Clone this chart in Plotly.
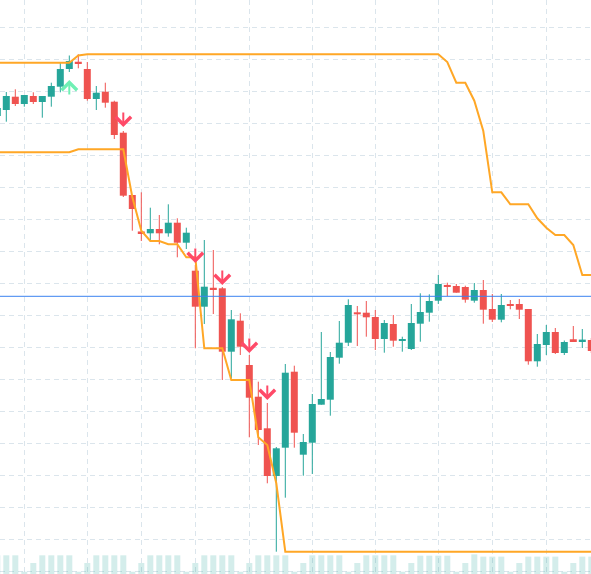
import plotly.graph_objects as go

# ---------------- data ----------------
idx = list(range(67))

open_ = [88.4, 89.0, 90.33, 89.6, 90.4, 89.8, 90.33, 91.33, 93.1, 93.8,
         93.1, 90.1, 90.83, 89.83, 86.73, 80.5, 76.83, 76.67, 77.1, 76.67,
         77.73, 75.73, 72.93, 69.33, 71.2, 71.17, 64.83, 67.93, 63.5, 60.33,
         57.17, 52.4, 55.23, 62.83, 54.53, 55.73, 59.53, 60.03, 64.23, 65.73,
         68.77, 68.73, 68.3, 66.1, 67.6, 65.9, 65.1, 67.63, 68.73, 69.93,
         71.5, 71.4, 71.3, 69.93, 71.0, 69.1, 68.03, 69.57, 69.6, 69.1,
         63.87, 65.5, 66.8, 64.7, 66.07, 65.9, 66.0]

high = [89.6, 90.8, 91.07, 90.5, 90.77, 90.4, 91.73, 93.73, 94.45, 94.57,
        93.8, 91.4, 91.73, 89.93, 86.9, 80.5, 80.77, 79.23, 78.5, 79.57,
        78.17, 77.23, 73.5, 76.0, 75.0, 71.3, 69.0, 68.67, 64.5, 61.83,
        59.7, 55.3, 63.6, 63.43, 56.6, 60.6, 66.8, 64.8, 67.9, 70.07,
        69.4, 69.9, 69.0, 68.0, 68.5, 66.33, 69.6, 70.67, 70.57, 72.5,
        71.73, 71.6, 71.43, 71.7, 72.0, 70.6, 70.6, 70.0, 70.1, 69.1,
        66.6, 67.5, 67.2, 65.95, 67.4, 67.1, 66.2]

low = [87.9, 87.83, 89.4, 89.33, 89.6, 88.23, 89.33, 90.77, 92.8, 93.17,
       89.93, 89.0, 89.23, 86.1, 80.3, 76.93, 75.9, 76.0, 75.57, 76.33,
       74.27, 75.1, 65.17, 67.6, 68.6, 62.0, 62.2, 64.5, 56.27, 55.5,
       51.67, 44.83, 50.23, 55.23, 52.43, 52.6, 59.53, 58.43, 63.63, 65.4,
       65.4, 66.33, 65.0, 64.73, 65.33, 64.83, 65.0, 65.83, 67.83, 69.6,
       70.4, 70.73, 69.73, 69.73, 67.63, 67.8, 67.77, 69.07, 68.1, 63.53,
       63.33, 64.5, 64.6, 64.5, 65.85, 65.2, 64.7]

close = [89.2, 90.4, 89.6, 90.5, 89.8, 90.4, 91.4, 93.1, 93.9, 93.67,
         90.1, 90.73, 89.73, 86.5, 80.43, 79.1, 76.7, 77.1, 76.67, 77.73,
         75.73, 76.73, 69.33, 71.33, 71.07, 64.83, 68.07, 65.33, 60.23, 57.0,
         52.4, 55.17, 62.73, 56.73, 55.8, 59.6, 60.1, 64.3, 65.73, 69.5,
         68.57, 68.27, 66.1, 67.7, 65.93, 66.1, 67.7, 68.8, 69.9, 71.6,
         71.33, 70.73, 70.03, 71.0, 69.03, 68.03, 69.5, 69.43, 69.03, 63.87,
         65.6, 66.8, 64.7, 65.8, 65.9, 66.0, 64.9]

volume = [1000, 1000, 1000, 120, 590, 1000, 1000, 1000, 1000, 120,
          590, 1000, 1000, 1000, 1000, 120, 590, 1000, 1000, 1000,
          1000, 120, 590, 1000, 1000, 1000, 1000, 120, 590, 1000,
          1000, 1000, 1000, 120, 590, 1000, 1000, 1000, 1000, 120,
          590, 1000, 1000, 1000, 1000, 120, 590, 980, 980, 980,
          980, 120, 590, 1050, 930, 930, 930, 120, 590, 930,
          930, 930, 930, 120, 590, 930, 930]

upper = [93.73, 93.73, 93.73, 93.73, 93.73, 93.73, 93.73, 93.73, 93.73, 94.45,
         94.57, 94.57, 94.57, 94.57, 94.57, 94.57, 94.57, 94.57, 94.57, 94.57,
         94.57, 94.57, 94.57, 94.57, 94.57, 94.57, 94.57, 94.57, 94.57, 94.57,
         94.57, 94.57, 94.57, 94.57, 94.57, 94.57, 94.57, 94.57, 94.57, 94.57,
         94.57, 94.57, 94.57, 94.57, 94.57, 94.57, 94.57, 94.57, 94.57, 94.57,
         93.8, 91.73, 91.73, 89.93, 86.9, 80.77, 80.77, 79.57, 79.57, 79.57,
         78.17, 77.23, 76.5, 76.5, 75.5, 72.5, 72.5]

lower = [84.77, 84.77, 84.77, 84.77, 84.77, 84.77, 84.77, 84.77, 84.77, 85.07,
         85.07, 85.07, 85.07, 85.07, 85.07, 80.3, 76.93, 75.9, 75.9, 75.57,
         75.57, 74.27, 74.27, 65.17, 65.17, 65.17, 62.0, 62.0, 62.0, 56.27,
         55.5, 51.67, 44.83, 44.83, 44.83, 44.83, 44.83, 44.83, 44.83, 44.83,
         44.83, 44.83, 44.83, 44.83, 44.83, 44.83, 44.83, 44.83, 44.83, 44.83,
         44.83, 44.83, 44.83, 44.83, 44.83, 44.83, 44.83, 44.83, 44.83, 44.83,
         44.83, 44.83, 44.83, 44.83, 44.83, 44.83, 44.83]

sell_idx = [14, 22, 25, 28, 30]
sell_price = [87.3, 73.7, 71.5, 64.7, 60.0]
buy_idx = [8]
buy_price = [92.0]

ref_price = 70.37
grid_idx = [3, 10, 16, 22, 28, 35, 42, 49, 55, 61]

# ---------------- styles ----------------
UP = "#26a69a"
DOWN = "#ef5350"
VOL = "rgba(38,166,154,0.2)"
CHAN = "#ffa726"
GRID = "#dbe5ec"
MIN_BODY = 0.18

fig = go.Figure()

fig.add_trace(go.Bar(x=idx, y=volume, yaxis="y2", width=0.667,
                     marker=dict(color=VOL, line=dict(width=0)),
                     hoverinfo="skip"))

for is_up, col in ((True, UP), (False, DOWN)):
    sel = [i for i in idx if (close[i] >= open_[i]) == is_up]
    bx, by, bb = [], [], []
    wx, wy = [], []
    for i in sel:
        lo_b = min(open_[i], close[i])
        h = abs(close[i] - open_[i])
        if h < MIN_BODY:
            lo_b = (open_[i] + close[i]) / 2 - MIN_BODY / 2
            h = MIN_BODY
        bx.append(i); by.append(h); bb.append(lo_b)
        wx += [i, i, None]; wy += [low[i], high[i], None]
    fig.add_trace(go.Scatter(x=wx, y=wy, mode="lines",
                             line=dict(color=col, width=1), hoverinfo="skip"))
    fig.add_trace(go.Bar(x=bx, y=by, base=bb, width=0.778,
                         marker=dict(color=col, line=dict(width=0)),
                         hoverinfo="skip"))

fig.add_trace(go.Scatter(x=idx, y=upper, mode="lines",
                         line=dict(color=CHAN, width=2), hoverinfo="skip"))
fig.add_trace(go.Scatter(x=idx, y=lower, mode="lines",
                         line=dict(color=CHAN, width=2), hoverinfo="skip"))

fig.add_hline(y=ref_price, line=dict(color="#3b82f0", width=1))

for i, p in zip(sell_idx, sell_price):
    fig.add_annotation(x=i, y=p, text="", showarrow=True, ax=0, ay=-16,
                       arrowhead=4, arrowsize=1.5, arrowwidth=2,
                       arrowcolor="#ff4a68")
for i, p in zip(buy_idx, buy_price):
    fig.add_annotation(x=i, y=p, text="", showarrow=True, ax=0, ay=16,
                       arrowhead=4, arrowsize=1.5, arrowwidth=2,
                       arrowcolor="#6ff0b4")

fig.update_layout(
    width=591, height=574,
    margin=dict(l=0, r=0, t=0, b=0),
    paper_bgcolor="white", plot_bgcolor="white",
    showlegend=False, barmode="overlay",
    xaxis=dict(range=[0.3, 0.3 + 591 / 9], tickmode="array", tickvals=grid_idx,
               showticklabels=False, showgrid=True, gridcolor=GRID, gridwidth=1,
               griddash="5px,4px", zeroline=False, showline=False, ticks=""),
    yaxis=dict(range=[42.6, 100.0], tick0=42.87, dtick=3.2,
               showticklabels=False, showgrid=True, gridcolor=GRID, gridwidth=1,
               griddash="5px,4px", zeroline=False, showline=False, ticks=""),
    yaxis2=dict(range=[0, 30700], overlaying="y", visible=False,
                showgrid=False, zeroline=False),
)

fig.write_html("out.html", config={"displayModeBar": False})
